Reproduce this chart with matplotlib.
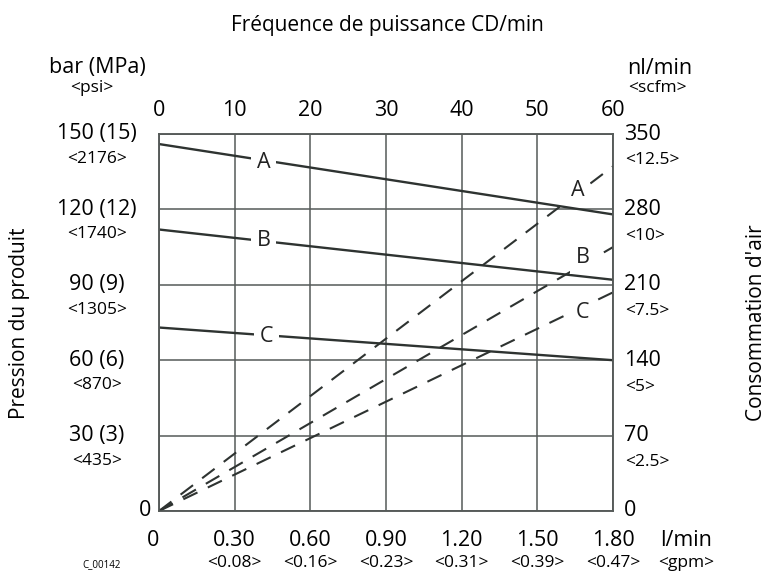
import matplotlib.pyplot as plt

plt.rcParams['font.family'] = ['Open Sans', 'DejaVu Sans']

# pump cycles (top axis) and flow (bottom axis)
cycles = [0, 10, 20, 30, 40, 50, 60]
flow_lpm = ['0', '0.30', '0.60', '0.90', '1.20', '1.50', '1.80']
flow_gpm = ['', '<0.08>', '<0.16>', '<0.23>', '<0.31>', '<0.39>', '<0.47>']

# fluid pressure (left) and air consumption (right)
press_bar = [0, 30, 60, 90, 120, 150]
press_lab = ['0', '30 (3)', '60 (6)', '90 (9)', '120 (12)', '150 (15)']
press_psi = ['', '<435>', '<870>', '<1305>', '<1740>', '<2176>']
air_nl = [0, 70, 140, 210, 280, 350]
air_scfm = ['', '<2.5>', '<5>', '<7.5>', '<10>', '<12.5>']

# curves: pressure (solid) and air consumption (dashed), read at 0 and 60 cycles
curve_x = [0, 60]
press_A = [146, 118]
press_B = [112, 92]
press_C = [73, 60]
air_A = [0, 320]
air_B = [0, 245]
air_C = [0, 203]

ink = '#2e3331'
grid_c = '#555a58'

fig = plt.figure(figsize=(7.75, 5.73), dpi=100)
ax = fig.add_axes([159/775, 1-511/573, (613-159)/775, (511-134)/573])
ax2 = ax.twinx()

ax.set_xlim(0, 60)
ax.set_ylim(0, 150)
ax2.set_ylim(0, 350)
for a in (ax, ax2):
    a.set_xticks(cycles)
    a.tick_params(length=0, labelleft=False, labelbottom=False, labelright=False)
    for s in a.spines.values():
        s.set_color(grid_c)
        s.set_linewidth(1.1)
ax.set_yticks(press_bar)
ax2.set_yticks(air_nl)
ax.grid(True, color=grid_c, linewidth=1.1)

ax.plot(curve_x, press_A, color=ink, lw=1.7, solid_capstyle='butt')
ax.plot(curve_x, press_B, color=ink, lw=1.7, solid_capstyle='butt')
ax.plot(curve_x, press_C, color=ink, lw=1.7, solid_capstyle='butt')
for ys in (air_A, air_B, air_C):
    ax2.plot(curve_x, ys, color=ink, lw=1.5, dashes=(7.5, 5.5))

lbl = dict(ha='center', va='center', fontsize=15.5, color='#222',
           bbox=dict(boxstyle='square,pad=0.25', fc='white', ec='none'), zorder=5)
ax2.text(13.8, 138.5, 'A', transform=ax.transData, **lbl)
ax2.text(13.8, 107.5, 'B', transform=ax.transData, **lbl)
ax2.text(14.2, 69.5, 'C', transform=ax.transData, **lbl)
ax2.text(55.4, 298, 'A', **lbl)
ax2.text(56.0, 235, 'B', **lbl)
ax2.text(56.0, 184, 'C', **lbl)

def fx(px):
    return (px - 159) / 454

ty = ax.get_yaxis_transform()
tx = ax.get_xaxis_transform()
big = 15.5
small = 12.5

# left axis labels
for v, lab, psi in zip(press_bar, press_lab, press_psi):
    if v == 0:
        ax.text(fx(145), v, lab, transform=ty, ha='center', va='center', fontsize=big)
        continue
    ax.text(fx(97), v, lab, transform=ty, ha='center', va='center', fontsize=big)
    ax.annotate(psi, xy=(fx(97), v), xycoords=ty, xytext=(0, -18),
                textcoords='offset points', ha='center', va='center', fontsize=small)

# right axis labels
ty2 = ax2.get_yaxis_transform()
for v, psi in zip(air_nl, air_scfm):
    ax2.text(fx(624), v, str(v), transform=ty2, ha='left', va='center', fontsize=big)
    if psi:
        ax2.annotate(psi, xy=(fx(625), v), xycoords=ty2, xytext=(0, -19),
                     textcoords='offset points', ha='left', va='center', fontsize=small)

# top axis labels
for c in cycles:
    ax.text(c, 1 + 24/377, str(c), transform=tx, ha='center', va='center', fontsize=big)

# bottom axis labels
for c, l, g in zip(cycles, flow_lpm, flow_gpm):
    xx = c if c else -0.8
    ax.text(xx, -29/377, l, transform=tx, ha='center', va='center', fontsize=big)
    if g:
        ax.text(c, -52/377, g, transform=tx, ha='center', va='center', fontsize=small)

ax.text(fx(660), -29/377, 'l/min', transform=ax.transAxes, ha='left', va='center', fontsize=big)
ax.text(fx(658), -52/377, '<gpm>', transform=ax.transAxes, ha='left', va='center', fontsize=small)
ax.text(fx(97), 1 + 66/377, 'bar (MPa)', transform=ax.transAxes, ha='center', va='center', fontsize=big)
ax.text(fx(92), 1 + 46/377, '<psi>', transform=ax.transAxes, ha='center', va='center', fontsize=small)
ax.text(fx(627), 1 + 66/377, 'nl/min', transform=ax.transAxes, ha='left', va='center', fontsize=big)
ax.text(fx(628), 1 + 46/377, '<scfm>', transform=ax.transAxes, ha='left', va='center', fontsize=small)
ax.text(fx(102), -54/377, 'C_00142', transform=ax.transAxes, ha='center', va='center', fontsize=7)

fig.text(387/775, 1 - 25/573, 'Fréquence de puissance CD/min', ha='center', va='center', fontsize=15)
fig.text(20/775, 1 - 323/573, 'Pression du produit', ha='center', va='center', rotation=90, fontsize=15)
fig.text(757/775, 1 - 323/573, "Consommation d'air", ha='center', va='center', rotation=90, fontsize=15)

fig.savefig('out.png', dpi=100)
